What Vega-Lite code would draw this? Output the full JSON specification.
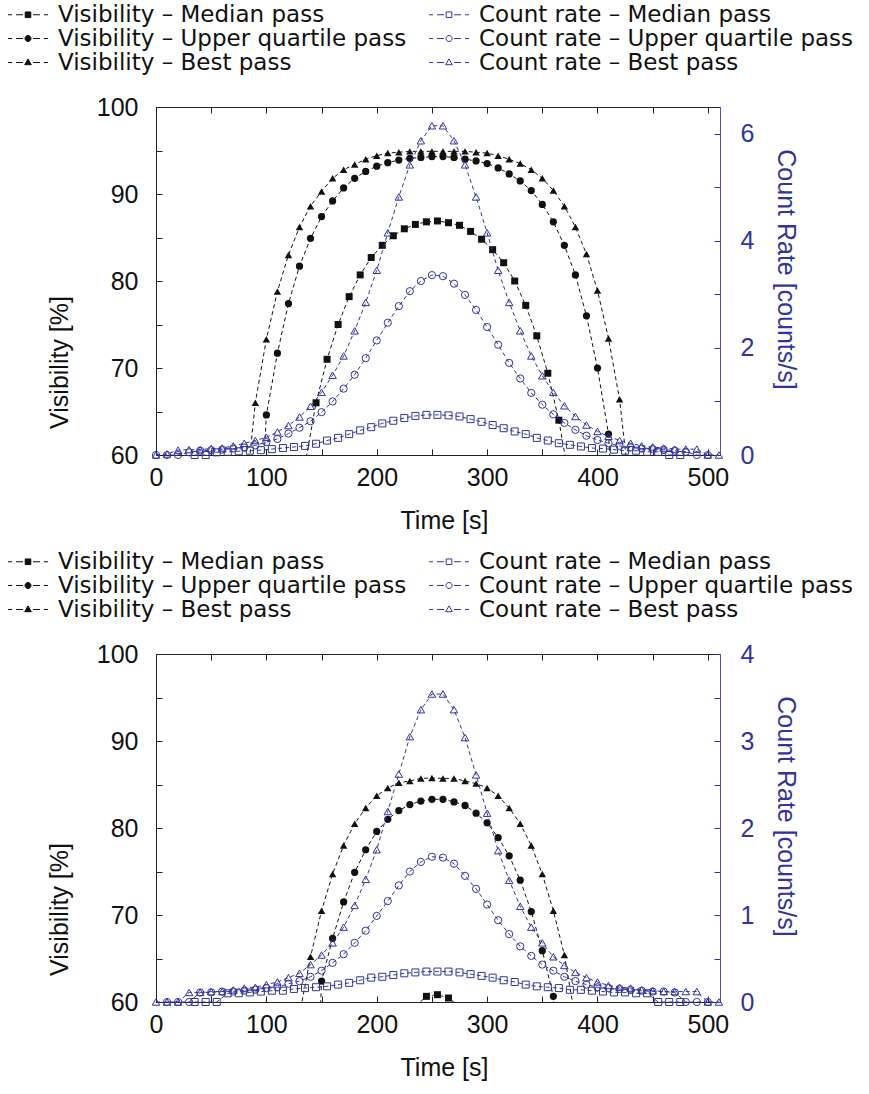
{
"$schema": "https://vega.github.io/schema/vega-lite/v6.json",
"padding": {"left": 6, "top": 2, "right": 0, "bottom": 0},
"bounds": "flush",
"spacing": 199,
"config": {
  "font": "Liberation Sans",
  "view": {"stroke": "#222222", "strokeWidth": 1},
  "axis": {"grid": false, "labelFontSize": 25, "titleFontSize": 25, "titleFontWeight": "normal", "labelColor": "#111111", "titleColor": "#111111", "tickSize": -6, "tickColor": "#222222", "tickWidth": 1, "domainColor": "#222222", "domainWidth": 1, "labelOverlap": false, "labelFlush": false, "labelBound": false},
  "legend": {"labelFont": "DejaVu Sans", "labelFontSize": 23, "labelColor": "#111111", "symbolStrokeWidth": 1, "symbolSize": 400, "symbolOffset": 9.5, "labelOffset": 18.5, "rowPadding": -1, "columnPadding": 20, "labelLimit": 1000, "padding": 0, "offset": 0}
},
"datasets": {
"top": [
{"kind":"V","pass":"Median","time":135,"value":58.9},{"kind":"V","pass":"Median","time":145,"value":66.0},{"kind":"V","pass":"Median","time":155,"value":71.0},{"kind":"V","pass":"Median","time":165,"value":75.0},{"kind":"V","pass":"Median","time":175,"value":78.2},{"kind":"V","pass":"Median","time":185,"value":80.7},{"kind":"V","pass":"Median","time":195,"value":82.7},{"kind":"V","pass":"Median","time":205,"value":84.1},{"kind":"V","pass":"Median","time":215,"value":85.2},{"kind":"V","pass":"Median","time":225,"value":86.0},{"kind":"V","pass":"Median","time":235,"value":86.5},{"kind":"V","pass":"Median","time":245,"value":86.8},{"kind":"V","pass":"Median","time":255,"value":86.9},{"kind":"V","pass":"Median","time":265,"value":86.7},{"kind":"V","pass":"Median","time":275,"value":86.4},{"kind":"V","pass":"Median","time":285,"value":85.7},{"kind":"V","pass":"Median","time":295,"value":84.8},{"kind":"V","pass":"Median","time":305,"value":83.6},{"kind":"V","pass":"Median","time":315,"value":82.1},{"kind":"V","pass":"Median","time":325,"value":80.0},{"kind":"V","pass":"Median","time":335,"value":77.2},{"kind":"V","pass":"Median","time":345,"value":73.7},{"kind":"V","pass":"Median","time":355,"value":69.4},{"kind":"V","pass":"Median","time":365,"value":64.0},{"kind":"V","pass":"Median","time":375,"value":56.7},
{"kind":"V","pass":"Upper quartile","time":90,"value":41},{"kind":"V","pass":"Upper quartile","time":100,"value":64.6},{"kind":"V","pass":"Upper quartile","time":110,"value":71.7},{"kind":"V","pass":"Upper quartile","time":120,"value":77.4},{"kind":"V","pass":"Upper quartile","time":130,"value":81.7},{"kind":"V","pass":"Upper quartile","time":140,"value":84.9},{"kind":"V","pass":"Upper quartile","time":150,"value":87.4},{"kind":"V","pass":"Upper quartile","time":160,"value":89.2},{"kind":"V","pass":"Upper quartile","time":170,"value":90.7},{"kind":"V","pass":"Upper quartile","time":180,"value":91.8},{"kind":"V","pass":"Upper quartile","time":190,"value":92.6},{"kind":"V","pass":"Upper quartile","time":200,"value":93.2},{"kind":"V","pass":"Upper quartile","time":210,"value":93.6},{"kind":"V","pass":"Upper quartile","time":220,"value":93.9},{"kind":"V","pass":"Upper quartile","time":230,"value":94.1},{"kind":"V","pass":"Upper quartile","time":240,"value":94.2},{"kind":"V","pass":"Upper quartile","time":250,"value":94.3},{"kind":"V","pass":"Upper quartile","time":260,"value":94.3},{"kind":"V","pass":"Upper quartile","time":270,"value":94.2},{"kind":"V","pass":"Upper quartile","time":280,"value":94.0},{"kind":"V","pass":"Upper quartile","time":290,"value":93.8},{"kind":"V","pass":"Upper quartile","time":300,"value":93.5},{"kind":"V","pass":"Upper quartile","time":310,"value":93.0},{"kind":"V","pass":"Upper quartile","time":320,"value":92.3},{"kind":"V","pass":"Upper quartile","time":330,"value":91.5},{"kind":"V","pass":"Upper quartile","time":340,"value":90.4},{"kind":"V","pass":"Upper quartile","time":350,"value":88.8},{"kind":"V","pass":"Upper quartile","time":360,"value":86.8},{"kind":"V","pass":"Upper quartile","time":370,"value":84.1},{"kind":"V","pass":"Upper quartile","time":380,"value":80.7},{"kind":"V","pass":"Upper quartile","time":390,"value":76.0},{"kind":"V","pass":"Upper quartile","time":400,"value":70.0},{"kind":"V","pass":"Upper quartile","time":410,"value":62.4},{"kind":"V","pass":"Upper quartile","time":420,"value":40},
{"kind":"V","pass":"Best","time":80,"value":53.8},{"kind":"V","pass":"Best","time":90,"value":66.0},{"kind":"V","pass":"Best","time":100,"value":73.3},{"kind":"V","pass":"Best","time":110,"value":78.8},{"kind":"V","pass":"Best","time":120,"value":83.0},{"kind":"V","pass":"Best","time":130,"value":86.2},{"kind":"V","pass":"Best","time":140,"value":88.6},{"kind":"V","pass":"Best","time":150,"value":90.3},{"kind":"V","pass":"Best","time":160,"value":91.8},{"kind":"V","pass":"Best","time":170,"value":92.8},{"kind":"V","pass":"Best","time":180,"value":93.4},{"kind":"V","pass":"Best","time":190,"value":94.0},{"kind":"V","pass":"Best","time":200,"value":94.4},{"kind":"V","pass":"Best","time":210,"value":94.7},{"kind":"V","pass":"Best","time":220,"value":94.8},{"kind":"V","pass":"Best","time":230,"value":94.9},{"kind":"V","pass":"Best","time":240,"value":94.9},{"kind":"V","pass":"Best","time":250,"value":94.9},{"kind":"V","pass":"Best","time":260,"value":94.9},{"kind":"V","pass":"Best","time":270,"value":94.9},{"kind":"V","pass":"Best","time":280,"value":94.9},{"kind":"V","pass":"Best","time":290,"value":94.8},{"kind":"V","pass":"Best","time":300,"value":94.7},{"kind":"V","pass":"Best","time":310,"value":94.4},{"kind":"V","pass":"Best","time":320,"value":94.0},{"kind":"V","pass":"Best","time":330,"value":93.5},{"kind":"V","pass":"Best","time":340,"value":92.8},{"kind":"V","pass":"Best","time":350,"value":91.8},{"kind":"V","pass":"Best","time":360,"value":90.4},{"kind":"V","pass":"Best","time":370,"value":88.6},{"kind":"V","pass":"Best","time":380,"value":86.2},{"kind":"V","pass":"Best","time":390,"value":83.1},{"kind":"V","pass":"Best","time":400,"value":78.9},{"kind":"V","pass":"Best","time":410,"value":73.4},{"kind":"V","pass":"Best","time":420,"value":66.4},{"kind":"V","pass":"Best","time":430,"value":55.2},
{"kind":"C","pass":"Median","time":35,"value":0},{"kind":"C","pass":"Median","time":45,"value":0},{"kind":"C","pass":"Median","time":55,"value":0.05},{"kind":"C","pass":"Median","time":65,"value":0.06},{"kind":"C","pass":"Median","time":75,"value":0.07},{"kind":"C","pass":"Median","time":85,"value":0.08},{"kind":"C","pass":"Median","time":95,"value":0.09},{"kind":"C","pass":"Median","time":105,"value":0.11},{"kind":"C","pass":"Median","time":115,"value":0.13},{"kind":"C","pass":"Median","time":125,"value":0.15},{"kind":"C","pass":"Median","time":135,"value":0.17},{"kind":"C","pass":"Median","time":145,"value":0.21},{"kind":"C","pass":"Median","time":155,"value":0.27},{"kind":"C","pass":"Median","time":165,"value":0.32},{"kind":"C","pass":"Median","time":175,"value":0.39},{"kind":"C","pass":"Median","time":185,"value":0.46},{"kind":"C","pass":"Median","time":195,"value":0.52},{"kind":"C","pass":"Median","time":205,"value":0.59},{"kind":"C","pass":"Median","time":215,"value":0.64},{"kind":"C","pass":"Median","time":225,"value":0.69},{"kind":"C","pass":"Median","time":235,"value":0.73},{"kind":"C","pass":"Median","time":245,"value":0.75},{"kind":"C","pass":"Median","time":255,"value":0.75},{"kind":"C","pass":"Median","time":265,"value":0.74},{"kind":"C","pass":"Median","time":275,"value":0.72},{"kind":"C","pass":"Median","time":285,"value":0.67},{"kind":"C","pass":"Median","time":295,"value":0.62},{"kind":"C","pass":"Median","time":305,"value":0.56},{"kind":"C","pass":"Median","time":315,"value":0.50},{"kind":"C","pass":"Median","time":325,"value":0.44},{"kind":"C","pass":"Median","time":335,"value":0.39},{"kind":"C","pass":"Median","time":345,"value":0.32},{"kind":"C","pass":"Median","time":355,"value":0.27},{"kind":"C","pass":"Median","time":365,"value":0.22},{"kind":"C","pass":"Median","time":375,"value":0.19},{"kind":"C","pass":"Median","time":385,"value":0.16},{"kind":"C","pass":"Median","time":395,"value":0.13},{"kind":"C","pass":"Median","time":405,"value":0.12},{"kind":"C","pass":"Median","time":415,"value":0.10},{"kind":"C","pass":"Median","time":425,"value":0.08},{"kind":"C","pass":"Median","time":435,"value":0.08},{"kind":"C","pass":"Median","time":445,"value":0.06},{"kind":"C","pass":"Median","time":455,"value":0.06},{"kind":"C","pass":"Median","time":465,"value":0},{"kind":"C","pass":"Median","time":475,"value":0},
{"kind":"C","pass":"Upper quartile","time":0,"value":0},{"kind":"C","pass":"Upper quartile","time":10,"value":0},{"kind":"C","pass":"Upper quartile","time":20,"value":0},{"kind":"C","pass":"Upper quartile","time":30,"value":0.05},{"kind":"C","pass":"Upper quartile","time":40,"value":0.08},{"kind":"C","pass":"Upper quartile","time":50,"value":0.09},{"kind":"C","pass":"Upper quartile","time":60,"value":0.10},{"kind":"C","pass":"Upper quartile","time":70,"value":0.12},{"kind":"C","pass":"Upper quartile","time":80,"value":0.14},{"kind":"C","pass":"Upper quartile","time":90,"value":0.18},{"kind":"C","pass":"Upper quartile","time":100,"value":0.24},{"kind":"C","pass":"Upper quartile","time":110,"value":0.30},{"kind":"C","pass":"Upper quartile","time":120,"value":0.40},{"kind":"C","pass":"Upper quartile","time":130,"value":0.51},{"kind":"C","pass":"Upper quartile","time":140,"value":0.63},{"kind":"C","pass":"Upper quartile","time":150,"value":0.80},{"kind":"C","pass":"Upper quartile","time":160,"value":1.00},{"kind":"C","pass":"Upper quartile","time":170,"value":1.24},{"kind":"C","pass":"Upper quartile","time":180,"value":1.50},{"kind":"C","pass":"Upper quartile","time":190,"value":1.81},{"kind":"C","pass":"Upper quartile","time":200,"value":2.14},{"kind":"C","pass":"Upper quartile","time":210,"value":2.47},{"kind":"C","pass":"Upper quartile","time":220,"value":2.78},{"kind":"C","pass":"Upper quartile","time":230,"value":3.06},{"kind":"C","pass":"Upper quartile","time":240,"value":3.25},{"kind":"C","pass":"Upper quartile","time":250,"value":3.36},{"kind":"C","pass":"Upper quartile","time":260,"value":3.34},{"kind":"C","pass":"Upper quartile","time":270,"value":3.20},{"kind":"C","pass":"Upper quartile","time":280,"value":2.99},{"kind":"C","pass":"Upper quartile","time":290,"value":2.71},{"kind":"C","pass":"Upper quartile","time":300,"value":2.39},{"kind":"C","pass":"Upper quartile","time":310,"value":2.06},{"kind":"C","pass":"Upper quartile","time":320,"value":1.72},{"kind":"C","pass":"Upper quartile","time":330,"value":1.43},{"kind":"C","pass":"Upper quartile","time":340,"value":1.16},{"kind":"C","pass":"Upper quartile","time":350,"value":0.94},{"kind":"C","pass":"Upper quartile","time":360,"value":0.76},{"kind":"C","pass":"Upper quartile","time":370,"value":0.60},{"kind":"C","pass":"Upper quartile","time":380,"value":0.47},{"kind":"C","pass":"Upper quartile","time":390,"value":0.36},{"kind":"C","pass":"Upper quartile","time":400,"value":0.28},{"kind":"C","pass":"Upper quartile","time":410,"value":0.22},{"kind":"C","pass":"Upper quartile","time":420,"value":0.17},{"kind":"C","pass":"Upper quartile","time":430,"value":0.14},{"kind":"C","pass":"Upper quartile","time":440,"value":0.12},{"kind":"C","pass":"Upper quartile","time":450,"value":0.11},{"kind":"C","pass":"Upper quartile","time":460,"value":0.10},{"kind":"C","pass":"Upper quartile","time":470,"value":0.08},{"kind":"C","pass":"Upper quartile","time":480,"value":0.06},{"kind":"C","pass":"Upper quartile","time":490,"value":0},{"kind":"C","pass":"Upper quartile","time":500,"value":0},
{"kind":"C","pass":"Best","time":0,"value":0},{"kind":"C","pass":"Best","time":10,"value":0.02},{"kind":"C","pass":"Best","time":20,"value":0.09},{"kind":"C","pass":"Best","time":30,"value":0.10},{"kind":"C","pass":"Best","time":40,"value":0.10},{"kind":"C","pass":"Best","time":50,"value":0.12},{"kind":"C","pass":"Best","time":60,"value":0.13},{"kind":"C","pass":"Best","time":70,"value":0.17},{"kind":"C","pass":"Best","time":80,"value":0.22},{"kind":"C","pass":"Best","time":90,"value":0.27},{"kind":"C","pass":"Best","time":100,"value":0.33},{"kind":"C","pass":"Best","time":110,"value":0.43},{"kind":"C","pass":"Best","time":120,"value":0.55},{"kind":"C","pass":"Best","time":130,"value":0.71},{"kind":"C","pass":"Best","time":140,"value":0.91},{"kind":"C","pass":"Best","time":150,"value":1.17},{"kind":"C","pass":"Best","time":160,"value":1.49},{"kind":"C","pass":"Best","time":170,"value":1.85},{"kind":"C","pass":"Best","time":180,"value":2.32},{"kind":"C","pass":"Best","time":190,"value":2.85},{"kind":"C","pass":"Best","time":200,"value":3.45},{"kind":"C","pass":"Best","time":210,"value":4.15},{"kind":"C","pass":"Best","time":220,"value":4.82},{"kind":"C","pass":"Best","time":230,"value":5.42},{"kind":"C","pass":"Best","time":240,"value":5.87},{"kind":"C","pass":"Best","time":250,"value":6.15},{"kind":"C","pass":"Best","time":260,"value":6.15},{"kind":"C","pass":"Best","time":270,"value":5.87},{"kind":"C","pass":"Best","time":280,"value":5.42},{"kind":"C","pass":"Best","time":290,"value":4.82},{"kind":"C","pass":"Best","time":300,"value":4.15},{"kind":"C","pass":"Best","time":310,"value":3.45},{"kind":"C","pass":"Best","time":320,"value":2.85},{"kind":"C","pass":"Best","time":330,"value":2.32},{"kind":"C","pass":"Best","time":340,"value":1.85},{"kind":"C","pass":"Best","time":350,"value":1.48},{"kind":"C","pass":"Best","time":360,"value":1.17},{"kind":"C","pass":"Best","time":370,"value":0.92},{"kind":"C","pass":"Best","time":380,"value":0.72},{"kind":"C","pass":"Best","time":390,"value":0.56},{"kind":"C","pass":"Best","time":400,"value":0.44},{"kind":"C","pass":"Best","time":410,"value":0.35},{"kind":"C","pass":"Best","time":420,"value":0.27},{"kind":"C","pass":"Best","time":430,"value":0.22},{"kind":"C","pass":"Best","time":440,"value":0.17},{"kind":"C","pass":"Best","time":450,"value":0.15},{"kind":"C","pass":"Best","time":460,"value":0.13},{"kind":"C","pass":"Best","time":470,"value":0.11},{"kind":"C","pass":"Best","time":480,"value":0.11},{"kind":"C","pass":"Best","time":490,"value":0.11},{"kind":"C","pass":"Best","time":500,"value":0},{"kind":"C","pass":"Best","time":510,"value":0}
],
"bottom": [
{"kind":"V","pass":"Median","time":235,"value":59.5},{"kind":"V","pass":"Median","time":245,"value":60.65},{"kind":"V","pass":"Median","time":255,"value":60.84},{"kind":"V","pass":"Median","time":265,"value":60.46},{"kind":"V","pass":"Median","time":275,"value":59.5},
{"kind":"V","pass":"Upper quartile","time":140,"value":30},{"kind":"V","pass":"Upper quartile","time":150,"value":62.4},{"kind":"V","pass":"Upper quartile","time":160,"value":67.3},{"kind":"V","pass":"Upper quartile","time":170,"value":71.5},{"kind":"V","pass":"Upper quartile","time":180,"value":74.9},{"kind":"V","pass":"Upper quartile","time":190,"value":77.5},{"kind":"V","pass":"Upper quartile","time":200,"value":79.6},{"kind":"V","pass":"Upper quartile","time":210,"value":81.0},{"kind":"V","pass":"Upper quartile","time":220,"value":82.0},{"kind":"V","pass":"Upper quartile","time":230,"value":82.7},{"kind":"V","pass":"Upper quartile","time":240,"value":83.1},{"kind":"V","pass":"Upper quartile","time":250,"value":83.3},{"kind":"V","pass":"Upper quartile","time":260,"value":83.3},{"kind":"V","pass":"Upper quartile","time":270,"value":83.0},{"kind":"V","pass":"Upper quartile","time":280,"value":82.6},{"kind":"V","pass":"Upper quartile","time":290,"value":81.7},{"kind":"V","pass":"Upper quartile","time":300,"value":80.6},{"kind":"V","pass":"Upper quartile","time":310,"value":78.9},{"kind":"V","pass":"Upper quartile","time":320,"value":76.8},{"kind":"V","pass":"Upper quartile","time":330,"value":74.0},{"kind":"V","pass":"Upper quartile","time":340,"value":70.4},{"kind":"V","pass":"Upper quartile","time":350,"value":65.9},{"kind":"V","pass":"Upper quartile","time":360,"value":60.65},{"kind":"V","pass":"Upper quartile","time":370,"value":30},
{"kind":"V","pass":"Best","time":130,"value":58.5},{"kind":"V","pass":"Best","time":140,"value":65.2},{"kind":"V","pass":"Best","time":150,"value":70.5},{"kind":"V","pass":"Best","time":160,"value":74.7},{"kind":"V","pass":"Best","time":170,"value":78.0},{"kind":"V","pass":"Best","time":180,"value":80.5},{"kind":"V","pass":"Best","time":190,"value":82.3},{"kind":"V","pass":"Best","time":200,"value":83.7},{"kind":"V","pass":"Best","time":210,"value":84.6},{"kind":"V","pass":"Best","time":220,"value":85.2},{"kind":"V","pass":"Best","time":230,"value":85.4},{"kind":"V","pass":"Best","time":240,"value":85.7},{"kind":"V","pass":"Best","time":250,"value":85.75},{"kind":"V","pass":"Best","time":260,"value":85.7},{"kind":"V","pass":"Best","time":270,"value":85.7},{"kind":"V","pass":"Best","time":280,"value":85.4},{"kind":"V","pass":"Best","time":290,"value":85.1},{"kind":"V","pass":"Best","time":300,"value":84.6},{"kind":"V","pass":"Best","time":310,"value":83.7},{"kind":"V","pass":"Best","time":320,"value":82.3},{"kind":"V","pass":"Best","time":330,"value":80.5},{"kind":"V","pass":"Best","time":340,"value":78.0},{"kind":"V","pass":"Best","time":350,"value":74.7},{"kind":"V","pass":"Best","time":360,"value":70.5},{"kind":"V","pass":"Best","time":370,"value":65.4},{"kind":"V","pass":"Best","time":380,"value":58.0},
{"kind":"C","pass":"Median","time":35,"value":0},{"kind":"C","pass":"Median","time":45,"value":0},{"kind":"C","pass":"Median","time":55,"value":0},{"kind":"C","pass":"Median","time":65,"value":0.10},{"kind":"C","pass":"Median","time":75,"value":0.10},{"kind":"C","pass":"Median","time":85,"value":0.11},{"kind":"C","pass":"Median","time":95,"value":0.12},{"kind":"C","pass":"Median","time":105,"value":0.13},{"kind":"C","pass":"Median","time":115,"value":0.13},{"kind":"C","pass":"Median","time":125,"value":0.15},{"kind":"C","pass":"Median","time":135,"value":0.16},{"kind":"C","pass":"Median","time":145,"value":0.17},{"kind":"C","pass":"Median","time":155,"value":0.18},{"kind":"C","pass":"Median","time":165,"value":0.20},{"kind":"C","pass":"Median","time":175,"value":0.22},{"kind":"C","pass":"Median","time":185,"value":0.25},{"kind":"C","pass":"Median","time":195,"value":0.28},{"kind":"C","pass":"Median","time":205,"value":0.29},{"kind":"C","pass":"Median","time":215,"value":0.31},{"kind":"C","pass":"Median","time":225,"value":0.33},{"kind":"C","pass":"Median","time":235,"value":0.34},{"kind":"C","pass":"Median","time":245,"value":0.35},{"kind":"C","pass":"Median","time":255,"value":0.35},{"kind":"C","pass":"Median","time":265,"value":0.35},{"kind":"C","pass":"Median","time":275,"value":0.34},{"kind":"C","pass":"Median","time":285,"value":0.32},{"kind":"C","pass":"Median","time":295,"value":0.30},{"kind":"C","pass":"Median","time":305,"value":0.28},{"kind":"C","pass":"Median","time":315,"value":0.25},{"kind":"C","pass":"Median","time":325,"value":0.23},{"kind":"C","pass":"Median","time":335,"value":0.20},{"kind":"C","pass":"Median","time":345,"value":0.18},{"kind":"C","pass":"Median","time":355,"value":0.17},{"kind":"C","pass":"Median","time":365,"value":0.16},{"kind":"C","pass":"Median","time":375,"value":0.14},{"kind":"C","pass":"Median","time":385,"value":0.14},{"kind":"C","pass":"Median","time":395,"value":0.13},{"kind":"C","pass":"Median","time":405,"value":0.12},{"kind":"C","pass":"Median","time":415,"value":0.11},{"kind":"C","pass":"Median","time":425,"value":0.11},{"kind":"C","pass":"Median","time":435,"value":0.10},{"kind":"C","pass":"Median","time":445,"value":0.10},{"kind":"C","pass":"Median","time":455,"value":0},{"kind":"C","pass":"Median","time":465,"value":0},{"kind":"C","pass":"Median","time":475,"value":0},
{"kind":"C","pass":"Upper quartile","time":10,"value":0},{"kind":"C","pass":"Upper quartile","time":20,"value":0},{"kind":"C","pass":"Upper quartile","time":30,"value":0},{"kind":"C","pass":"Upper quartile","time":40,"value":0.11},{"kind":"C","pass":"Upper quartile","time":50,"value":0.11},{"kind":"C","pass":"Upper quartile","time":60,"value":0.12},{"kind":"C","pass":"Upper quartile","time":70,"value":0.12},{"kind":"C","pass":"Upper quartile","time":80,"value":0.13},{"kind":"C","pass":"Upper quartile","time":90,"value":0.14},{"kind":"C","pass":"Upper quartile","time":100,"value":0.16},{"kind":"C","pass":"Upper quartile","time":110,"value":0.17},{"kind":"C","pass":"Upper quartile","time":120,"value":0.21},{"kind":"C","pass":"Upper quartile","time":130,"value":0.24},{"kind":"C","pass":"Upper quartile","time":140,"value":0.29},{"kind":"C","pass":"Upper quartile","time":150,"value":0.36},{"kind":"C","pass":"Upper quartile","time":160,"value":0.45},{"kind":"C","pass":"Upper quartile","time":170,"value":0.55},{"kind":"C","pass":"Upper quartile","time":180,"value":0.68},{"kind":"C","pass":"Upper quartile","time":190,"value":0.82},{"kind":"C","pass":"Upper quartile","time":200,"value":0.99},{"kind":"C","pass":"Upper quartile","time":210,"value":1.16},{"kind":"C","pass":"Upper quartile","time":220,"value":1.34},{"kind":"C","pass":"Upper quartile","time":230,"value":1.50},{"kind":"C","pass":"Upper quartile","time":240,"value":1.61},{"kind":"C","pass":"Upper quartile","time":250,"value":1.67},{"kind":"C","pass":"Upper quartile","time":260,"value":1.66},{"kind":"C","pass":"Upper quartile","time":270,"value":1.59},{"kind":"C","pass":"Upper quartile","time":280,"value":1.45},{"kind":"C","pass":"Upper quartile","time":290,"value":1.30},{"kind":"C","pass":"Upper quartile","time":300,"value":1.12},{"kind":"C","pass":"Upper quartile","time":310,"value":0.94},{"kind":"C","pass":"Upper quartile","time":320,"value":0.78},{"kind":"C","pass":"Upper quartile","time":330,"value":0.64},{"kind":"C","pass":"Upper quartile","time":340,"value":0.53},{"kind":"C","pass":"Upper quartile","time":350,"value":0.43},{"kind":"C","pass":"Upper quartile","time":360,"value":0.36},{"kind":"C","pass":"Upper quartile","time":370,"value":0.29},{"kind":"C","pass":"Upper quartile","time":380,"value":0.24},{"kind":"C","pass":"Upper quartile","time":390,"value":0.20},{"kind":"C","pass":"Upper quartile","time":400,"value":0.17},{"kind":"C","pass":"Upper quartile","time":410,"value":0.16},{"kind":"C","pass":"Upper quartile","time":420,"value":0.15},{"kind":"C","pass":"Upper quartile","time":430,"value":0.14},{"kind":"C","pass":"Upper quartile","time":440,"value":0.13},{"kind":"C","pass":"Upper quartile","time":450,"value":0.12},{"kind":"C","pass":"Upper quartile","time":460,"value":0.12},{"kind":"C","pass":"Upper quartile","time":470,"value":0.11},{"kind":"C","pass":"Upper quartile","time":480,"value":0},{"kind":"C","pass":"Upper quartile","time":490,"value":0},{"kind":"C","pass":"Upper quartile","time":500,"value":0},
{"kind":"C","pass":"Best","time":0,"value":0},{"kind":"C","pass":"Best","time":10,"value":0},{"kind":"C","pass":"Best","time":20,"value":0},{"kind":"C","pass":"Best","time":30,"value":0.11},{"kind":"C","pass":"Best","time":40,"value":0.11},{"kind":"C","pass":"Best","time":50,"value":0.12},{"kind":"C","pass":"Best","time":60,"value":0.12},{"kind":"C","pass":"Best","time":70,"value":0.14},{"kind":"C","pass":"Best","time":80,"value":0.16},{"kind":"C","pass":"Best","time":90,"value":0.17},{"kind":"C","pass":"Best","time":100,"value":0.20},{"kind":"C","pass":"Best","time":110,"value":0.23},{"kind":"C","pass":"Best","time":120,"value":0.28},{"kind":"C","pass":"Best","time":130,"value":0.33},{"kind":"C","pass":"Best","time":140,"value":0.43},{"kind":"C","pass":"Best","time":150,"value":0.54},{"kind":"C","pass":"Best","time":160,"value":0.68},{"kind":"C","pass":"Best","time":170,"value":0.86},{"kind":"C","pass":"Best","time":180,"value":1.11},{"kind":"C","pass":"Best","time":190,"value":1.41},{"kind":"C","pass":"Best","time":200,"value":1.75},{"kind":"C","pass":"Best","time":210,"value":2.19},{"kind":"C","pass":"Best","time":220,"value":2.62},{"kind":"C","pass":"Best","time":230,"value":3.05},{"kind":"C","pass":"Best","time":240,"value":3.36},{"kind":"C","pass":"Best","time":250,"value":3.54},{"kind":"C","pass":"Best","time":260,"value":3.54},{"kind":"C","pass":"Best","time":270,"value":3.36},{"kind":"C","pass":"Best","time":280,"value":3.04},{"kind":"C","pass":"Best","time":290,"value":2.61},{"kind":"C","pass":"Best","time":300,"value":2.17},{"kind":"C","pass":"Best","time":310,"value":1.74},{"kind":"C","pass":"Best","time":320,"value":1.40},{"kind":"C","pass":"Best","time":330,"value":1.10},{"kind":"C","pass":"Best","time":340,"value":0.86},{"kind":"C","pass":"Best","time":350,"value":0.68},{"kind":"C","pass":"Best","time":360,"value":0.52},{"kind":"C","pass":"Best","time":370,"value":0.42},{"kind":"C","pass":"Best","time":380,"value":0.34},{"kind":"C","pass":"Best","time":390,"value":0.28},{"kind":"C","pass":"Best","time":400,"value":0.23},{"kind":"C","pass":"Best","time":410,"value":0.19},{"kind":"C","pass":"Best","time":420,"value":0.17},{"kind":"C","pass":"Best","time":430,"value":0.16},{"kind":"C","pass":"Best","time":440,"value":0.14},{"kind":"C","pass":"Best","time":450,"value":0.13},{"kind":"C","pass":"Best","time":460,"value":0.12},{"kind":"C","pass":"Best","time":470,"value":0.12},{"kind":"C","pass":"Best","time":480,"value":0.12},{"kind":"C","pass":"Best","time":490,"value":0.12},{"kind":"C","pass":"Best","time":500,"value":0},{"kind":"C","pass":"Best","time":510,"value":0}
]
},
"vconcat": [
{
  "width": 564, "height": 348,
  "data": {"name": "top"},
  "layer": [
    {"transform": [{"filter": "false"}], "mark": {"type": "point", "filled": true, "opacity": 1},
     "encoding": {
       "shape": {"field": "legend", "type": "nominal", "scale": {"domain": ["Visibility – Median pass","Visibility – Upper quartile pass","Visibility – Best pass","Count rate – Median pass","Count rate – Upper quartile pass","Count rate – Best pass"], "range": ["M-2,0H-1.6M-1.2,0H-0.5M0.5,0H1.2M1.6,0H2M-0.28,-0.28H0.28V0.28H-0.28Z","M-2,0H-1.6M-1.2,0H-0.5M0.5,0H1.2M1.6,0H2M0.3,0A0.3,0.3,0,1,1,-0.3,0A0.3,0.3,0,1,1,0.3,0Z","M-2,0H-1.6M-1.2,0H-0.5M0.5,0H1.2M1.6,0H2M0,-0.36L0.33,0.22H-0.33Z","M-2,0H-1.6M-1.2,0H-0.5M0.5,0H1.2M1.6,0H2M-0.28,-0.28H0.28V0.28H-0.28Z","M-2,0H-1.6M-1.2,0H-0.5M0.5,0H1.2M1.6,0H2M0.3,0A0.3,0.3,0,1,1,-0.3,0A0.3,0.3,0,1,1,0.3,0Z","M-2,0H-1.6M-1.2,0H-0.5M0.5,0H1.2M1.6,0H2M0,-0.36L0.33,0.22H-0.33Z"]},
         "legend": {"orient": "none", "legendX": -149, "legendY": -104, "columns": 2, "title": null}},
       "stroke": {"field": "legend", "type": "nominal", "scale": {"domain": ["Visibility – Median pass","Visibility – Upper quartile pass","Visibility – Best pass","Count rate – Median pass","Count rate – Upper quartile pass","Count rate – Best pass"], "range": ["#111111","#111111","#111111","#3333a0","#3333a0","#3333a0"]},
         "legend": {"orient": "none", "legendX": -149, "legendY": -104, "columns": 2, "title": null}},
       "fill": {"field": "legend", "type": "nominal", "scale": {"domain": ["Visibility – Median pass","Visibility – Upper quartile pass","Visibility – Best pass","Count rate – Median pass","Count rate – Upper quartile pass","Count rate – Best pass"], "range": ["#111111","#111111","#111111","transparent","transparent","transparent"]},
         "legend": {"orient": "none", "legendX": -149, "legendY": -104, "columns": 2, "title": null}}
     }},
    {"transform": [{"filter": "datum.kind === 'V'"}],
     "mark": {"type": "line", "clip": true, "color": "#111111", "strokeWidth": 1, "strokeDash": [4, 3]},
     "encoding": {
       "x": {"field": "time", "type": "quantitative", "scale": {"domain": [0, 511], "nice": false, "zero": false},
             "axis": {"orient": "bottom", "values": [0,50,100,150,200,250,300,350,400,450,500], "labelExpr": "datum.value % 100 === 0 ? datum.label : ''", "title": "Time [s]", "labelPadding": 16, "titleX": 288, "titleY": 65, "titleAlign": "center", "titleBaseline": "middle"}},
       "y": {"field": "value", "type": "quantitative", "scale": {"domain": [60, 100], "nice": false, "zero": false},
             "axis": {"orient": "left", "values": [60,65,70,75,80,85,90,95,100], "labelExpr": "datum.value % 10 === 0 ? datum.label : ''", "title": "Visibility [%]", "labelPadding": 24, "titleX": -97, "titleY": 255, "titleAngle": -90, "titleAlign": "center", "titleBaseline": "middle"}},
       "detail": {"field": "pass", "type": "nominal"}
     }},
    {"transform": [{"filter": "datum.kind === 'V' && datum.value >= 60"}],
     "mark": {"type": "point", "filled": true, "opacity": 1, "color": "#111111"},
     "encoding": {
       "x": {"field": "time", "type": "quantitative", "scale": {"domain": [0, 511], "nice": false, "zero": false},
             "axis": {"orient": "top", "values": [0,50,100,150,200,250,300,350,400,450,500], "labels": false, "title": null, "domain": false}},
       "y": {"field": "value", "type": "quantitative", "scale": {"domain": [60, 100], "nice": false, "zero": false}, "axis": null},
       "shape": {"field": "pass", "type": "nominal", "scale": {"domain": ["Median","Upper quartile","Best"], "range": ["square","circle","triangle-up"]}, "legend": null},
       "size": {"field": "pass", "type": "ordinal", "scale": {"domain": ["Median","Upper quartile","Best"], "range": [49, 56, 81]}, "legend": null}
     }},
    {"transform": [{"filter": "datum.kind === 'C'"}],
     "mark": {"type": "line", "color": "#3333a0", "strokeWidth": 1, "strokeDash": [4, 3]},
     "encoding": {
       "x": {"field": "time", "type": "quantitative", "scale": {"domain": [0, 511], "nice": false, "zero": false}, "axis": null},
       "y": {"field": "value", "type": "quantitative", "scale": {"domain": [0, 6.5], "nice": false, "zero": false},
             "axis": {"orient": "right", "values": [0,1,2,3,4,5,6], "format": "~g", "labelExpr": "datum.value % 2 === 0 ? datum.label : ''", "title": "Count Rate [counts/s]", "labelPadding": 26, "titleX": 65, "titleY": 162, "titleAngle": 90, "titleAlign": "center", "titleBaseline": "middle", "labelColor": "#3333a0", "titleColor": "#3333a0", "tickColor": "#3333a0", "domainColor": "#5050b0"}},
       "detail": {"field": "pass", "type": "nominal"}
     }},
    {"transform": [{"filter": "datum.kind === 'C'"}],
     "mark": {"type": "point", "filled": false, "opacity": 1, "color": "#3333a0", "strokeWidth": 1},
     "encoding": {
       "x": {"field": "time", "type": "quantitative", "scale": {"domain": [0, 511], "nice": false, "zero": false}, "axis": null},
       "y": {"field": "value", "type": "quantitative", "scale": {"domain": [0, 6.5], "nice": false, "zero": false}, "axis": null},
       "shape": {"field": "pass", "type": "nominal", "scale": {"domain": ["Median","Upper quartile","Best"], "range": ["square","circle","triangle-up"]}, "legend": null},
       "size": {"field": "pass", "type": "ordinal", "scale": {"domain": ["Median","Upper quartile","Best"], "range": [49, 56, 81]}, "legend": null}
     }}
  ],
  "resolve": {"scale": {"y": "independent", "shape": "independent", "stroke": "independent", "fill": "independent"}, "axis": {"x": "independent"}}
},
{
  "width": 564, "height": 348,
  "data": {"name": "bottom"},
  "layer": [
    {"transform": [{"filter": "false"}], "mark": {"type": "point", "filled": true, "opacity": 1},
     "encoding": {
       "shape": {"field": "legend", "type": "nominal", "scale": {"domain": ["Visibility – Median pass","Visibility – Upper quartile pass","Visibility – Best pass","Count rate – Median pass","Count rate – Upper quartile pass","Count rate – Best pass"], "range": ["M-2,0H-1.6M-1.2,0H-0.5M0.5,0H1.2M1.6,0H2M-0.28,-0.28H0.28V0.28H-0.28Z","M-2,0H-1.6M-1.2,0H-0.5M0.5,0H1.2M1.6,0H2M0.3,0A0.3,0.3,0,1,1,-0.3,0A0.3,0.3,0,1,1,0.3,0Z","M-2,0H-1.6M-1.2,0H-0.5M0.5,0H1.2M1.6,0H2M0,-0.36L0.33,0.22H-0.33Z","M-2,0H-1.6M-1.2,0H-0.5M0.5,0H1.2M1.6,0H2M-0.28,-0.28H0.28V0.28H-0.28Z","M-2,0H-1.6M-1.2,0H-0.5M0.5,0H1.2M1.6,0H2M0.3,0A0.3,0.3,0,1,1,-0.3,0A0.3,0.3,0,1,1,0.3,0Z","M-2,0H-1.6M-1.2,0H-0.5M0.5,0H1.2M1.6,0H2M0,-0.36L0.33,0.22H-0.33Z"]},
         "legend": {"orient": "none", "legendX": -149, "legendY": -104, "columns": 2, "title": null}},
       "stroke": {"field": "legend", "type": "nominal", "scale": {"domain": ["Visibility – Median pass","Visibility – Upper quartile pass","Visibility – Best pass","Count rate – Median pass","Count rate – Upper quartile pass","Count rate – Best pass"], "range": ["#111111","#111111","#111111","#3333a0","#3333a0","#3333a0"]},
         "legend": {"orient": "none", "legendX": -149, "legendY": -104, "columns": 2, "title": null}},
       "fill": {"field": "legend", "type": "nominal", "scale": {"domain": ["Visibility – Median pass","Visibility – Upper quartile pass","Visibility – Best pass","Count rate – Median pass","Count rate – Upper quartile pass","Count rate – Best pass"], "range": ["#111111","#111111","#111111","transparent","transparent","transparent"]},
         "legend": {"orient": "none", "legendX": -149, "legendY": -104, "columns": 2, "title": null}}
     }},
    {"transform": [{"filter": "datum.kind === 'V'"}],
     "mark": {"type": "line", "clip": true, "color": "#111111", "strokeWidth": 1, "strokeDash": [4, 3]},
     "encoding": {
       "x": {"field": "time", "type": "quantitative", "scale": {"domain": [0, 511], "nice": false, "zero": false},
             "axis": {"orient": "bottom", "values": [0,50,100,150,200,250,300,350,400,450,500], "labelExpr": "datum.value % 100 === 0 ? datum.label : ''", "title": "Time [s]", "labelPadding": 16, "titleX": 288, "titleY": 65, "titleAlign": "center", "titleBaseline": "middle"}},
       "y": {"field": "value", "type": "quantitative", "scale": {"domain": [60, 100], "nice": false, "zero": false},
             "axis": {"orient": "left", "values": [60,65,70,75,80,85,90,95,100], "labelExpr": "datum.value % 10 === 0 ? datum.label : ''", "title": "Visibility [%]", "labelPadding": 24, "titleX": -97, "titleY": 255, "titleAngle": -90, "titleAlign": "center", "titleBaseline": "middle"}},
       "detail": {"field": "pass", "type": "nominal"}
     }},
    {"transform": [{"filter": "datum.kind === 'V' && datum.value >= 60"}],
     "mark": {"type": "point", "filled": true, "opacity": 1, "color": "#111111"},
     "encoding": {
       "x": {"field": "time", "type": "quantitative", "scale": {"domain": [0, 511], "nice": false, "zero": false},
             "axis": {"orient": "top", "values": [0,50,100,150,200,250,300,350,400,450,500], "labels": false, "title": null, "domain": false}},
       "y": {"field": "value", "type": "quantitative", "scale": {"domain": [60, 100], "nice": false, "zero": false}, "axis": null},
       "shape": {"field": "pass", "type": "nominal", "scale": {"domain": ["Median","Upper quartile","Best"], "range": ["square","circle","triangle-up"]}, "legend": null},
       "size": {"field": "pass", "type": "ordinal", "scale": {"domain": ["Median","Upper quartile","Best"], "range": [49, 56, 81]}, "legend": null}
     }},
    {"transform": [{"filter": "datum.kind === 'C'"}],
     "mark": {"type": "line", "color": "#3333a0", "strokeWidth": 1, "strokeDash": [4, 3]},
     "encoding": {
       "x": {"field": "time", "type": "quantitative", "scale": {"domain": [0, 511], "nice": false, "zero": false}, "axis": null},
       "y": {"field": "value", "type": "quantitative", "scale": {"domain": [0, 4], "nice": false, "zero": false},
             "axis": {"orient": "right", "values": [0,0.5,1,1.5,2,2.5,3,3.5,4], "format": "~g", "labelExpr": "datum.value % 1 === 0 ? datum.label : ''", "title": "Count Rate [counts/s]", "labelPadding": 26, "titleX": 65, "titleY": 162, "titleAngle": 90, "titleAlign": "center", "titleBaseline": "middle", "labelColor": "#3333a0", "titleColor": "#3333a0", "tickColor": "#3333a0", "domainColor": "#5050b0"}},
       "detail": {"field": "pass", "type": "nominal"}
     }},
    {"transform": [{"filter": "datum.kind === 'C'"}],
     "mark": {"type": "point", "filled": false, "opacity": 1, "color": "#3333a0", "strokeWidth": 1},
     "encoding": {
       "x": {"field": "time", "type": "quantitative", "scale": {"domain": [0, 511], "nice": false, "zero": false}, "axis": null},
       "y": {"field": "value", "type": "quantitative", "scale": {"domain": [0, 4], "nice": false, "zero": false}, "axis": null},
       "shape": {"field": "pass", "type": "nominal", "scale": {"domain": ["Median","Upper quartile","Best"], "range": ["square","circle","triangle-up"]}, "legend": null},
       "size": {"field": "pass", "type": "ordinal", "scale": {"domain": ["Median","Upper quartile","Best"], "range": [49, 56, 81]}, "legend": null}
     }}
  ],
  "resolve": {"scale": {"y": "independent", "shape": "independent", "stroke": "independent", "fill": "independent"}, "axis": {"x": "independent"}}
}
]
}
